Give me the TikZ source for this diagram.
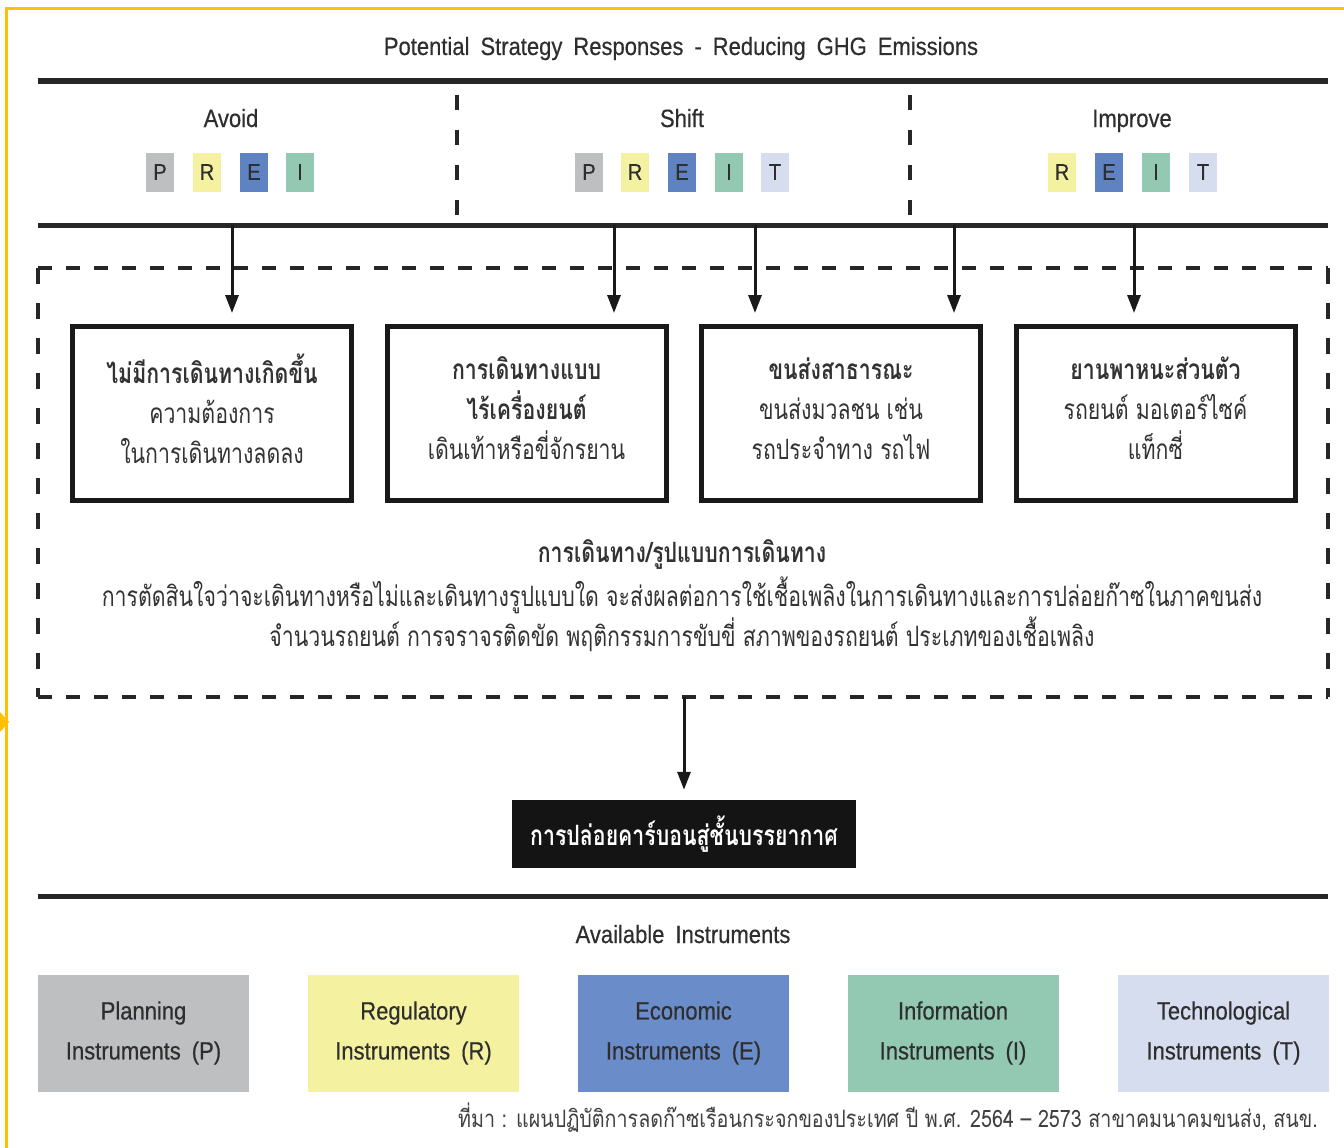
\documentclass[tikz,border=0pt]{standalone}
\usepackage{fontspec}
\setmainfont{Liberation Sans}[FakeStretch=0.88, WordSpace=1.8, FakeBold=0.4]
\newfontfamily\thai[Script=Thai, FakeStretch=0.76]{Loma}
\newfontfamily\thaisrc[Script=Thai, FakeStretch=0.82]{Loma}
\usetikzlibrary{arrows.meta,calc}
\definecolor{gold}{HTML}{FFC000}
\definecolor{pgray}{HTML}{BEBFC1}
\definecolor{ryellow}{HTML}{F4F2A0}
\definecolor{eblue}{HTML}{6A8CC8}
\definecolor{eblued}{HTML}{5E82C2}
\definecolor{igreen}{HTML}{93C9B3}
\definecolor{tlight}{HTML}{D6DDEE}
\definecolor{ink}{HTML}{2E2E2E}
\begin{document}
\begin{tikzpicture}[x=1pt,y=-1pt,
  entext/.style={font=\fontsize{25}{30}\selectfont, text=ink, inner sep=0, anchor=base},
  rulebar/.style={line width=5pt, draw=black!85},
  vdiv/.style={line width=4pt, draw=black!85, dash pattern=on 15pt off 20pt},
  hdashl/.style={line width=4.5pt, draw=black!85, dash pattern=on 14pt off 14pt},
  vdashl/.style={line width=4.5pt, draw=black!85, dash pattern=on 16pt off 19pt},
  lbox/.style={minimum width=28pt, minimum height=39pt, inner sep=0, font=\fontsize{23}{23}\selectfont, text=ink},
  mbox/.style={draw=black!90, line width=5pt, minimum width=279pt, minimum height=174pt, inner sep=0},
  btext/.style={inner sep=0, align=center, font=\thai\fontsize{28}{40}\selectfont, text=black!80},
  ttext/.style={font=\thai\fontsize{28}{30}\selectfont, text=black!80, inner sep=0},
  arr/.style={line width=3pt, draw=black!90, -{Triangle[length=18pt,width=13pt]}},
  emitbox/.style={fill=black!92, minimum width=344pt, minimum height=68pt, inner sep=0, text=white, font=\thai\bfseries\fontsize{28}{30}\selectfont},
  ibox/.style={minimum width=211pt, minimum height=117pt, inner sep=0, align=center, font=\fontsize{25}{40}\selectfont, text=ink},
  srctext/.style={font=\thaisrc\fontsize{24}{28}\selectfont, text=black!75, inner sep=2pt, fill=white}
]
\useasboundingbox (0,0) rectangle (1344,1148);
\fill[white] (0,0) rectangle (1344,1148);
% yellow frame marks
\draw[gold, line width=3pt] (6,1148) -- (6,9) -- (1344,9);
\fill[gold] (0,712) -- (9,722) -- (0,732) -- cycle;

% title
\node[entext] (title) at (681,55) {Potential Strategy Responses - Reducing GHG Emissions};
\draw[rulebar] (38,81) -- (1328,81);

% categories
\node[entext] (avoid) at (231,127) {Avoid};
\node[entext] (shift) at (682,127) {Shift};
\node[entext] (improve) at (1132,127) {Improve};
\draw[vdiv] (457,95) -- (457,215);
\draw[vdiv] (910,95) -- (910,215);

\node[lbox, fill=pgray] (aP) at (160,172) {P};
\node[lbox, fill=ryellow] (aR) at (207,172) {R};
\node[lbox, fill=eblued] (aE) at (254,172) {E};
\node[lbox, fill=igreen] (aI) at (300,172) {I};

\node[lbox, fill=pgray] (sP) at (589,172) {P};
\node[lbox, fill=ryellow] (sR) at (635,172) {R};
\node[lbox, fill=eblued] (sE) at (682,172) {E};
\node[lbox, fill=igreen] (sI) at (729,172) {I};
\node[lbox, fill=tlight] (sT) at (775,172) {T};

\node[lbox, fill=ryellow] (iR) at (1062,172) {R};
\node[lbox, fill=eblued] (iE) at (1109,172) {E};
\node[lbox, fill=igreen] (iI) at (1156,172) {I};
\node[lbox, fill=tlight] (iT) at (1203,172) {T};

\draw[rulebar] (38,225) -- (1328,225);
\coordinate (a1) at (232,225);
\coordinate (a2) at (614,225);
\coordinate (a3) at (755,225);
\coordinate (a4) at (954,225);
\coordinate (a5) at (1134,225);

% dashed frame
\node[minimum width=1290pt, minimum height=429pt, inner sep=0] (frame) at (683,482.5) {};
\draw[hdashl] (frame.north west) -- (frame.north east);
\draw[hdashl] (frame.south west) -- (frame.south east);
\draw[vdashl] (frame.north west) -- (frame.south west);
\draw[vdashl] (frame.north east) -- (frame.south east);

% mode boxes
\node[mbox] (b1) at (212,413.5) {};
\node[mbox] (b2) at (526.5,413.5) {};
\node[mbox] (b3) at (841,413.5) {};
\node[mbox] (b4) at (1155.5,413.5) {};
\node[btext] (b1t) at (b1.center) [yshift=5pt] {{\bfseries ไม่มีการเดินทางเกิดขึ้น}\\ความต้องการ\\ในการเดินทางลดลง};
\node[btext] (b2t) at (b2.center) [yshift=5pt] {{\bfseries การเดินทางแบบ}\\{\bfseries ไร้เครื่องยนต์}\\เดินเท้าหรือขี่จักรยาน};
\node[btext] (b3t) at (b3.center) [yshift=5pt] {{\bfseries ขนส่งสาธารณะ}\\ขนส่งมวลชน เช่น\\รถประจำทาง รถไฟ};
\node[btext] (b4t) at (b4.center) [yshift=5pt] {{\bfseries ยานพาหนะส่วนตัว}\\รถยนต์ มอเตอร์ไซค์\\แท็กซี่};

\draw[arr, shorten >=11pt] (a1) -- (a1 |- b1.north);
\draw[arr, shorten >=11pt] (a2) -- (a2 |- b2.north);
\draw[arr, shorten >=11pt] (a3) -- (a3 |- b3.north);
\draw[arr, shorten >=11pt] (a4) -- (a4 |- b3.north);
\draw[arr, shorten >=11pt] (a5) -- (a5 |- b4.north);

% central text
\node[ttext, font=\thai\bfseries\fontsize{28}{30}\selectfont] (mh) at (682,554) {การเดินทาง/รูปแบบการเดินทาง};
\node[ttext] (m1) at (682,595) {การตัดสินใจว่าจะเดินทางหรือไม่และเดินทางรูปแบบใด จะส่งผลต่อการใช้เชื้อเพลิงในการเดินทางและการปล่อยก๊าซในภาคขนส่ง};
\node[ttext] (m2) at (682,634) {จำนวนรถยนต์ การจราจรติดขัด พฤติกรรมการขับขี่ สภาพของรถยนต์ ประเภทของเชื้อเพลิง};

% emission box
\node[emitbox] (emit) at (684,834) {การปล่อยคาร์บอนสู่ชั้นบรรยากาศ};
\draw[arr, shorten >=10pt] (frame.south -| emit.north) -- (emit.north);

\draw[rulebar] (38,896) -- (1328,896);
\node[entext] (avail) at (683,943) {Available Instruments};

\node[ibox, fill=pgray] (iP) at (143.5,1033) {Planning\\Instruments (P)};
\node[ibox, fill=ryellow] (iRr) at (413.5,1033) {Regulatory\\Instruments (R)};
\node[ibox, fill=eblue] (iEe) at (683.5,1033) {Economic\\Instruments (E)};
\node[ibox, fill=igreen] (iIi) at (953,1033) {Information\\Instruments (I)};
\node[ibox, fill=tlight] (iTt) at (1223.5,1033) {Technological\\Instruments (T)};

\node[srctext, anchor=east] (src) at (1320,1118) {ที่มา : แผนปฏิบัติการลดก๊าซเรือนกระจกของประเทศ ปี พ.ศ. 2564 – 2573 สาขาคมนาคมขนส่ง, สนข.};
\end{tikzpicture}
\end{document}
